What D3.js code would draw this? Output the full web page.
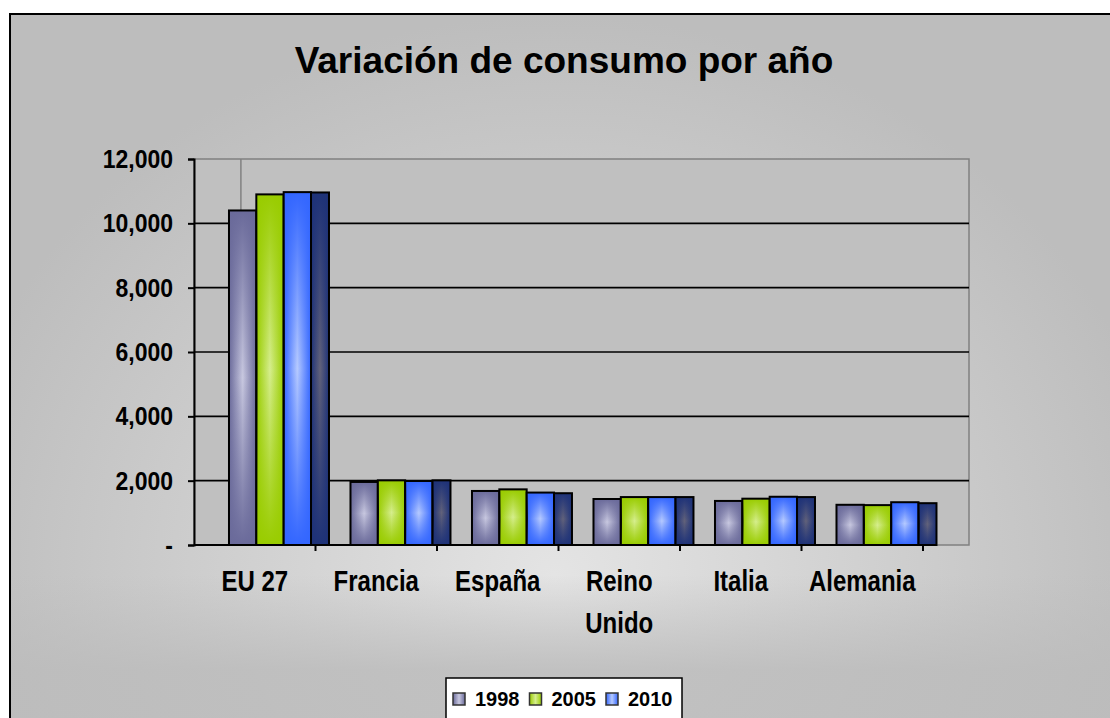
<!DOCTYPE html>
<html>
<head>
<meta charset="utf-8">
<script src="https://cdn.jsdelivr.net/npm/d3@7"></script>
<style>
  body { margin: 0; background: #ffffff; }
  text { font-family: Arial, "Liberation Sans", sans-serif; font-weight: bold; fill: #000; }
</style>
</head>
<body>
<script>
// DATA
const categories = ['EU 27', 'Francia', 'España', 'Reino Unido', 'Italia', 'Alemania'];
const seriesNames = ['1998', '2005', '2010', 'serie4'];
const legendNames = ['1998', '2005', '2010'];                                 // only three entries are visible in the legend
const values1998 = [10400, 1960, 1680, 1430, 1370, 1250];
const values2005 = [10900, 2010, 1730, 1490, 1440, 1240];
const values2010 = [10970, 1990, 1630, 1490, 1500, 1330];
const valuesSerie4 = [10960, 2010, 1610, 1490, 1490, 1300];
const yTicks = [0, 2000, 4000, 6000, 8000, 10000, 12000];
const title = 'Variación de consumo por año';

// Needed Variables
const width = 1110;
const height = 718;
const plot = {left: 194, top: 159, bottom: 545, right: 969, axisEnd: 923};
const edgeColors = ['#6a6a9a', '#99cc00', '#3366ff', '#1e3278'];
const centerColors = ['#c8c8e0', '#d6ee8e', '#b6caff', '#62627a'];

const seriesValues = [values1998, values2005, values2010, valuesSerie4];
const data = categories.map((c, i) => ({
  category: c,
  values: seriesNames.map((s, j) => ({series: s, index: j, value: seriesValues[j][i]}))
}));

// Create svg
const svg = d3.select('body')
  .append('svg')
  .attr('width', width)
  .attr('height', height);

const defs = svg.append('defs');

// Background gradients
const bg = defs.append('radialGradient')
  .attr('id', 'bg')
  .attr('gradientUnits', 'userSpaceOnUse')
  .attr('cx', 0).attr('cy', 0).attr('r', 1)
  .attr('gradientTransform', 'translate(555,575) scale(620,560)');
bg.append('stop').attr('offset', 0).attr('stop-color', '#e4e4e4');
bg.append('stop').attr('offset', 1).attr('stop-color', '#bdbdbd');

const bgLow = defs.append('linearGradient')
  .attr('id', 'bgLow')
  .attr('gradientUnits', 'userSpaceOnUse')
  .attr('x1', 0).attr('y1', 575).attr('x2', 0).attr('y2', 670);
bgLow.append('stop').attr('offset', 0).attr('stop-color', '#bcbcbc').attr('stop-opacity', 0);
bgLow.append('stop').attr('offset', 1).attr('stop-color', '#bcbcbc').attr('stop-opacity', 0.85);

// Bar gradients
seriesNames.forEach((s, i) => {
  const h = defs.append('linearGradient').attr('id', 'h' + i)
    .attr('x1', 0).attr('y1', 0).attr('x2', 1).attr('y2', 0);
  h.append('stop').attr('offset', 0).attr('stop-color', edgeColors[i]);
  h.append('stop').attr('offset', 0.5).attr('stop-color', centerColors[i]);
  h.append('stop').attr('offset', 1).attr('stop-color', edgeColors[i]);

  const v = defs.append('linearGradient').attr('id', 'v' + i)
    .attr('x1', 0).attr('y1', 0).attr('x2', 0).attr('y2', 1);
  v.append('stop').attr('offset', 0).attr('stop-color', edgeColors[i]).attr('stop-opacity', 1);
  v.append('stop').attr('offset', 0.5).attr('stop-color', edgeColors[i]).attr('stop-opacity', 0);
  v.append('stop').attr('offset', 1).attr('stop-color', edgeColors[i]).attr('stop-opacity', 1);
});

// Chart area
svg.append('rect')
  .attr('x', 10).attr('y', 14)
  .attr('width', width + 20).attr('height', height + 20)
  .attr('fill', 'url(#bg)')
  .attr('stroke', '#000').attr('stroke-width', 2);

svg.append('rect')
  .attr('x', 11).attr('y', 575)
  .attr('width', width).attr('height', height)
  .attr('fill', 'url(#bgLow)');

// Title
svg.append('text')
  .attr('x', 564)
  .attr('y', 73)
  .attr('text-anchor', 'middle')
  .style('font-size', '37px')
  .text(title);

// Scales
const yScale = d3.scaleLinear()
  .domain([0, 12000])
  .range([plot.bottom, plot.top]);

const x0 = d3.scaleBand()
  .domain(categories)
  .range([plot.left, plot.axisEnd]);

const bw = x0.bandwidth();
const x1 = d3.scaleBand()
  .domain(seriesNames)
  .range([0.288 * bw, 0.288 * bw + 4 * 0.225 * bw]);
const barWidth = (s) => s === 'serie4' ? 0.148 * bw : x1.bandwidth();

// Plot area
svg.append('rect')
  .attr('x', plot.left).attr('y', plot.top)
  .attr('width', plot.right - plot.left)
  .attr('height', plot.bottom - plot.top)
  .attr('fill', '#c0c0c0')
  .attr('stroke', '#808080').attr('stroke-width', 1.5);

// Gridlines
svg.append('g')
  .selectAll('line')
  .data(yTicks.filter(t => t > 0 && t < 12000))
  .join('line')
  .attr('x1', plot.left).attr('x2', plot.right)
  .attr('y1', d => yScale(d)).attr('y2', d => yScale(d))
  .attr('stroke', '#000').attr('stroke-width', 1.6);

// Small grey drop line behind the first group
svg.append('line')
  .attr('x1', x0(categories[0]) + 0.386 * bw).attr('x2', x0(categories[0]) + 0.386 * bw)
  .attr('y1', plot.top).attr('y2', plot.bottom)
  .attr('stroke', '#808080').attr('stroke-width', 1.5);

// Bars
const groups = svg.append('g')
  .selectAll('g')
  .data(data)
  .join('g')
  .attr('transform', d => 'translate(' + x0(d.category) + ',0)');

groups.selectAll('rect.fill')
  .data(d => d.values)
  .join('rect')
  .classed('fill', true)
  .attr('x', d => x1(d.series))
  .attr('y', d => yScale(d.value))
  .attr('width', d => barWidth(d.series))
  .attr('height', d => yScale(0) - yScale(d.value))
  .attr('fill', d => 'url(#h' + d.index + ')');

groups.selectAll('rect.shade')
  .data(d => d.values)
  .join('rect')
  .classed('shade', true)
  .attr('x', d => x1(d.series))
  .attr('y', d => yScale(d.value))
  .attr('width', d => barWidth(d.series))
  .attr('height', d => yScale(0) - yScale(d.value))
  .attr('fill', d => 'url(#v' + d.index + ')')
  .attr('stroke', '#000')
  .attr('stroke-width', 2);

// Y axis
const yAxis = d3.axisLeft(yScale)
  .tickValues(yTicks)
  .tickSize(6)
  .tickPadding(15)
  .tickFormat(d => d === 0 ? '-' : d3.format(',')(d));

const yG = svg.append('g')
  .attr('transform', 'translate(' + plot.left + ',0)')
  .call(yAxis);
yG.select('.domain').attr('stroke', '#000').attr('stroke-width', 2);
yG.selectAll('.tick line').attr('stroke', '#000').attr('stroke-width', 2);
yG.selectAll('.tick text')
  .attr('font-family', null).attr('font-size', null)
  .style('font-size', '23px')
  .attr('transform', 'scale(1,1.15)');

// X axis line and boundary ticks
const lastEnd = x0(categories[categories.length - 1]) + x1('serie4') + barWidth('serie4');
svg.append('line')
  .attr('x1', plot.left).attr('x2', lastEnd)
  .attr('y1', plot.bottom).attr('y2', plot.bottom)
  .attr('stroke', '#000').attr('stroke-width', 2);

svg.append('g')
  .selectAll('line')
  .data(categories)
  .join('line')
  .attr('x1', d => x0(d) + bw).attr('x2', d => x0(d) + bw)
  .attr('y1', plot.bottom).attr('y2', plot.bottom + 6)
  .attr('stroke', '#000').attr('stroke-width', 2);

// X labels
const xLabels = svg.append('g')
  .selectAll('text')
  .data(categories)
  .join('text')
  .attr('text-anchor', 'middle')
  .style('font-size', '24px')
  .attr('transform', d => 'translate(' + (x0(d) + bw / 2) + ',591) scale(1,1.25)');

xLabels.each(function(d) {
  const t = d3.select(this);
  const words = d.split(' ');
  let lines = [d];
  t.text(d);
  if (this.getComputedTextLength() > bw - 4 && words.length > 1) lines = words;
  t.text(null);
  lines.forEach((w, i) => {
    t.append('tspan').attr('x', 0).attr('dy', i === 0 ? 0 : 33.6).text(w);
  });
});

// Legend
const legend = svg.append('g').attr('transform', 'translate(446,678)');
legend.append('rect')
  .attr('width', 236).attr('height', 60)
  .attr('fill', '#fff')
  .attr('stroke', '#000').attr('stroke-width', 1.5);

const items = legend.selectAll('g')
  .data(legendNames)
  .join('g')
  .attr('transform', (d, i) => 'translate(' + (7 + i * 76.5) + ',0)');

items.append('rect')
  .attr('y', 15).attr('width', 12).attr('height', 12)
  .attr('fill', (d, i) => 'url(#h' + i + ')')
  .attr('stroke', '#333').attr('stroke-width', 1.5);

items.append('text')
  .attr('x', 22).attr('y', 28)
  .style('font-size', '20px')
  .text(d => d);
</script>
</body>
</html>
